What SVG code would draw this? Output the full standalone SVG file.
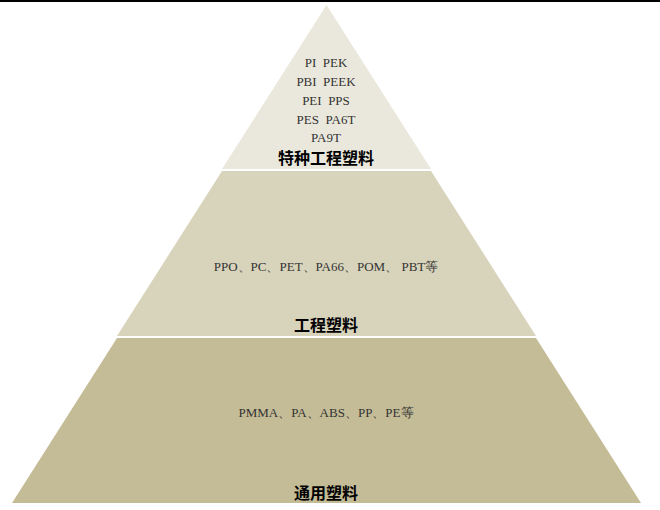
<svg xmlns="http://www.w3.org/2000/svg" width="660" height="510" viewBox="0 0 660 510">
<style>
.item{font-family:"Liberation Serif","Times New Roman",serif;font-size:13px;fill:#333333;text-anchor:middle;white-space:pre}
.title{font-family:"Liberation Serif","Noto Sans CJK SC",serif;font-size:16px;font-weight:bold;fill:#000000;text-anchor:middle}
</style>
<rect x="0" y="0" width="660" height="510" fill="#ffffff"/>
<rect x="0" y="0" width="660" height="2" fill="#000000"/>
<g id="tier-special">
<polygon points="326.5,5 431,169 222,169" fill="#EAE8DC"/>
<text class="item" x="326" y="67" xml:space="preserve">PI  PEK</text>
<text class="item" x="326" y="86" xml:space="preserve">PBI  PEEK</text>
<text class="item" x="326" y="105" xml:space="preserve">PEI  PPS</text>
<text class="item" x="326" y="124" xml:space="preserve">PES  PA6T</text>
<text class="item" x="326" y="142">PA9T</text>
<text class="title" x="326" y="164">特种工程塑料</text>
</g>
<g id="tier-engineering">
<polygon points="222,171 431,171 536,336 117,336" fill="#D8D3BB"/>
<text class="item" x="326" y="271" xml:space="preserve">PPO、PC、PET、PA66、POM、 PBT等</text>
<text class="title" x="326" y="331">工程塑料</text>
</g>
<g id="tier-general">
<polygon points="117,338 536,338 641,503 12,503" fill="#C4BC96"/>
<text class="item" x="326" y="417">PMMA、PA、ABS、PP、PE等</text>
<text class="title" x="326" y="499">通用塑料</text>
</g>
<g id="connectors"></g>
</svg>
